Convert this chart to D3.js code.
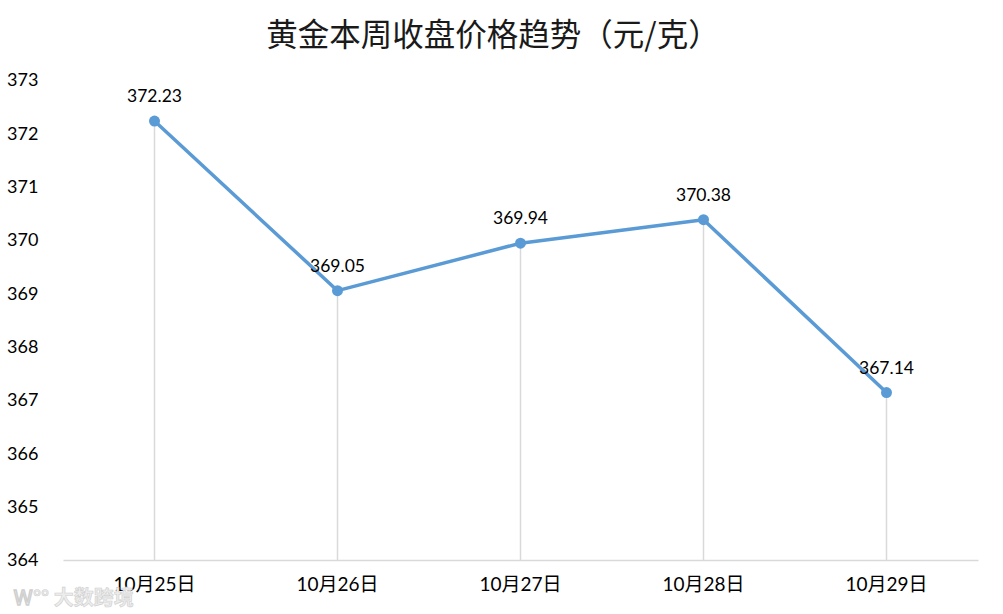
<!DOCTYPE html>
<html><head><meta charset="utf-8">
<script src="https://cdn.jsdelivr.net/npm/d3@7"></script>
<style>body{margin:0;background:#fff;}svg{display:block;}</style>
</head><body>
<script>
const title = "黄金本周收盘价格趋势（元/克）";
const categories = ["10月25日","10月26日","10月27日","10月28日","10月29日"];
const values = [372.23, 369.05, 369.94, 370.38, 367.14];
const yTicks = [364,365,366,367,368,369,370,371,372,373];

const W = 1003, H = 614;
const svg = d3.select("body").append("svg").attr("width", W).attr("height", H);
const x = d3.scaleBand().domain(categories).range([63, 978]);
const y = d3.scaleLinear().domain([364, 373]).range([560, 80]);
const font = "Lato, 'Noto Sans CJK SC', sans-serif";

svg.append("text").attr("x", 493).attr("y", 46).attr("text-anchor", "middle")
  .attr("font-family", "'Noto Sans CJK SC', sans-serif").attr("font-size", 31.5).attr("fill", "#1a1a1a").text(title);

// y labels
svg.append("g").selectAll("text").data(yTicks).join("text")
  .attr("x", 7).attr("y", d => y(d)).attr("dy", "0.35em")
  .attr("font-family", font).attr("font-size", 18).attr("fill", "#000").text(d => d);

// drop lines
const cx = d => x(d) + x.bandwidth()/2;
svg.append("g").selectAll("line").data(categories).join("line")
  .attr("x1", cx).attr("x2", cx).attr("y1", (d,i) => y(values[i])).attr("y2", 560)
  .attr("stroke", "#d9d9d9").attr("stroke-width", 1.5);

// x axis
const xAxis = svg.append("g").attr("transform", "translate(0,560)")
  .call(d3.axisBottom(x).tickSize(0).tickPadding(18));
xAxis.select(".domain").attr("stroke", "#d9d9d9").attr("stroke-width", 1.5);
xAxis.selectAll("text").attr("font-family", font).attr("font-size", 19).attr("fill", "#000");

// line
const data = categories.map((c,i) => ({c, v: values[i]}));
svg.append("path").datum(data)
  .attr("d", d3.line().x(d => cx(d.c)).y(d => y(d.v)))
  .attr("fill", "none").attr("stroke", "#5B9BD5").attr("stroke-width", 3.5).attr("stroke-linejoin", "round");
svg.append("g").selectAll("circle").data(data).join("circle")
  .attr("cx", d => cx(d.c)).attr("cy", d => y(d.v)).attr("r", 5.5).attr("fill", "#5B9BD5");
svg.append("g").selectAll("text").data(data).join("text")
  .attr("x", d => cx(d.c)).attr("y", d => y(d.v) - 19).attr("text-anchor", "middle")
  .attr("font-family", font).attr("font-size", 17.5).attr("fill", "#000").text(d => d.v.toFixed(2));

// watermark
svg.append("text").attr("x", 14).attr("y", 605)
  .attr("font-family", "'Noto Sans CJK SC', sans-serif").attr("font-size", 20).attr("font-weight", "bold")
  .attr("fill", "#ececec").attr("stroke", "#cfcfcf").attr("stroke-width", 0.6).text("Ꮃ°° 大数跨境");
</script>
</body></html>
